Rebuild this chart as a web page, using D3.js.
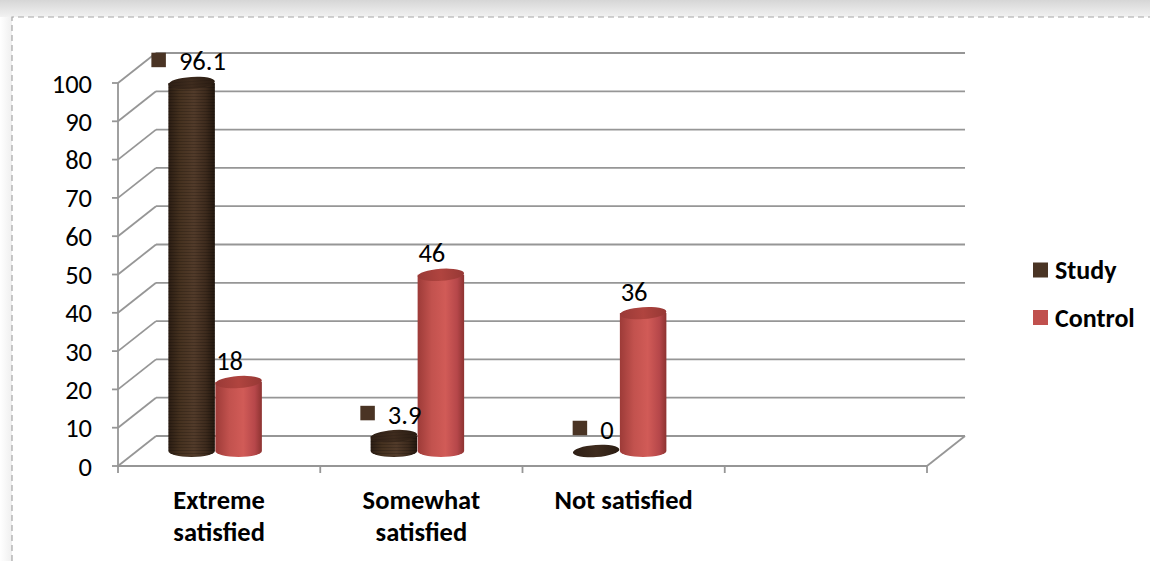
<!DOCTYPE html>
<html>
<head>
<meta charset="utf-8">
<script src="https://cdn.jsdelivr.net/npm/d3@7/dist/d3.min.js"></script>
<style>
  html, body { margin: 0; padding: 0; background: #fff; }
  svg { display: block; }
  text { font-family: Carlito, Calibri, Lato, "Open Sans", sans-serif; }
</style>
</head>
<body>
<svg id="chart" width="1150" height="561"></svg>
<script>
// ---- data ----
const categories = ["Extreme satisfied", "Somewhat satisfied", "Not satisfied"];
const categoryLines = [["Extreme", "satisfied"], ["Somewhat", "satisfied"], ["Not satisfied"]];
const seriesNames = ["Study", "Control"];
const studyValues = [96.1, 3.9, 0];
const controlValues = [18, 46, 36];
const yTickValues = [0, 10, 20, 30, 40, 50, 60, 70, 80, 90, 100];

// ---- layout ----
const svg = d3.select("#chart");
const defs = svg.append("defs");

const frontLeft = 118, frontRight = 927;
const depthDx = 38, depthDy = -30;
const y = d3.scaleLinear().domain([0, 100]).range([466, 83]);
const slots = d3.range(categories.length + 1); // 4th slot is empty in the original
const x = d3.scaleBand().domain(slots).range([frontLeft, frontRight]).padding(0);

// ---- frame / shadow ----
const topShadow = defs.append("linearGradient").attr("id", "topShadow").attr("x1", 0).attr("y1", 0).attr("x2", 0).attr("y2", 1);
topShadow.append("stop").attr("offset", 0).attr("stop-color", "#d6d6d6");
topShadow.append("stop").attr("offset", 1).attr("stop-color", "#f2f2f2");
const leftShadow = defs.append("linearGradient").attr("id", "leftShadow").attr("x1", 0).attr("y1", 0).attr("x2", 1).attr("y2", 0);
leftShadow.append("stop").attr("offset", 0).attr("stop-color", "#ffffff");
leftShadow.append("stop").attr("offset", 1).attr("stop-color", "#efefef");
svg.append("rect").attr("x", 0).attr("y", 0).attr("width", 1150).attr("height", 17).attr("fill", "url(#topShadow)");
svg.append("rect").attr("x", 0).attr("y", 17).attr("width", 12).attr("height", 544).attr("fill", "url(#leftShadow)");
svg.append("path").attr("d", "M12,561 L12,17 L1150,17")
  .attr("fill", "none").attr("stroke", "#a6a6a6").attr("stroke-width", 1.2).attr("stroke-dasharray", "6,4");

// ---- grid ----
const gridColor = "#969696";
const grid = svg.append("g");
yTickValues.forEach(v => {
  const yf = y(v);
  grid.append("line").attr("x1", frontLeft).attr("y1", yf).attr("x2", frontLeft + depthDx).attr("y2", yf + depthDy)
    .attr("stroke", gridColor).attr("stroke-width", 1.8);
  grid.append("line").attr("x1", frontLeft + depthDx).attr("y1", yf + depthDy).attr("x2", frontRight + depthDx).attr("y2", yf + depthDy)
    .attr("stroke", gridColor).attr("stroke-width", 1.8);
  grid.append("line").attr("x1", frontLeft - 6).attr("y1", yf).attr("x2", frontLeft).attr("y2", yf)
    .attr("stroke", gridColor).attr("stroke-width", 1.8);
});
grid.append("line").attr("x1", frontLeft).attr("y1", y(100)).attr("x2", frontLeft).attr("y2", y(0))
  .attr("stroke", gridColor).attr("stroke-width", 1.8);
grid.append("line").attr("x1", frontLeft).attr("y1", y(0)).attr("x2", frontRight).attr("y2", y(0))
  .attr("stroke", gridColor).attr("stroke-width", 1.8);
grid.append("line").attr("x1", frontRight).attr("y1", y(0)).attr("x2", frontRight + depthDx).attr("y2", y(0) + depthDy)
  .attr("stroke", gridColor).attr("stroke-width", 1.8);
slots.concat([slots.length]).forEach(i => {
  const xx = i < slots.length ? x(i) : frontRight;
  grid.append("line").attr("x1", xx).attr("y1", y(0)).attr("x2", xx).attr("y2", y(0) + 7)
    .attr("stroke", gridColor).attr("stroke-width", 1.8);
});

// y tick labels
svg.append("g").selectAll("text").data(yTickValues).join("text")
  .attr("x", 92).attr("y", d => y(d)).attr("dy", "0.36em")
  .attr("text-anchor", "end").attr("font-size", 26.5).attr("fill", "#000")
  .text(d => d);

// category labels
categories.forEach((c, i) => {
  const t = svg.append("text").attr("x", x(i) + x.bandwidth() / 2).attr("y", 500)
    .attr("text-anchor", "middle").attr("font-size", 26.5).attr("font-weight", "bold").attr("fill", "#000");
  categoryLines[i].forEach((line, k) => {
    t.append("tspan").attr("x", x(i) + x.bandwidth() / 2).attr("dy", k === 0 ? "0.35em" : 32).text(line);
  });
});

// ---- gradients for cylinders ----
function hGrad(id, stops) {
  const g = defs.append("linearGradient").attr("id", id).attr("x1", 0).attr("y1", 0).attr("x2", 1).attr("y2", 0);
  stops.forEach(([o, c]) => g.append("stop").attr("offset", o).attr("stop-color", c));
}
hGrad("studyBody", [[0, "#2b1d13"], [0.25, "#45311f"], [0.55, "#523b2a"], [0.8, "#3e2b1d"], [1, "#22170e"]]);
hGrad("studyTop", [[0, "#2e1f15"], [0.5, "#3f2c1e"], [1, "#2a1c12"]]);
hGrad("controlBody", [[0, "#9d3b38"], [0.3, "#c2524e"], [0.6, "#d15b57"], [0.85, "#b6474a"], [1, "#8d3331"]]);
hGrad("controlTop", [[0, "#9a3a37"], [0.5, "#b0443f"], [1, "#963835"]]);
const stripes = defs.append("pattern").attr("id", "stripes").attr("patternUnits", "userSpaceOnUse")
  .attr("width", 6).attr("height", 3);
stripes.append("rect").attr("x", 0).attr("y", 0).attr("width", 6).attr("height", 1).attr("fill", "rgba(0,0,0,0.18)");

// ---- bars ----
const depthFrac = 0.5;
const yMid = v => y(v) + depthDy * depthFrac;
const barW = 46.5, rx = barW / 2, ry = 6;
const seriesData = [
  { name: seriesNames[0], values: studyValues, body: "url(#studyBody)", top: "url(#studyTop)", stripes: true, offset: -23.5 },
  { name: seriesNames[1], values: controlValues, body: "url(#controlBody)", top: "url(#controlTop)", stripes: false, offset: 23.5 }
];
const bars = svg.append("g");
const labels = svg.append("g");
seriesData.forEach(s => {
  s.values.forEach((v, i) => {
    const cx = x(i) + x.bandwidth() / 2 - 4 + s.offset;
    const yb = yMid(0), yt = yMid(v);
    const g = bars.append("g");
    if (v > 0) {
      const d = `M${cx - rx},${yt} L${cx - rx},${yb} A${rx},${ry} 0 0 0 ${cx + rx},${yb} L${cx + rx},${yt} Z`;
      g.append("path").attr("d", d).attr("fill", s.body);
      if (s.stripes) g.append("path").attr("d", d).attr("fill", "url(#stripes)");
    }
    g.append("ellipse").attr("cx", cx).attr("cy", yt).attr("rx", rx).attr("ry", ry)
      .attr("transform", `rotate(-4 ${cx} ${yt})`)
      .attr("fill", s.top);
    if (s.stripes && v > 0) {
      g.append("ellipse").attr("cx", cx).attr("cy", yt).attr("rx", rx).attr("ry", ry)
        .attr("transform", `rotate(-4 ${cx} ${yt})`).attr("fill", "url(#stripes)").attr("opacity", 0.6);
    }

    // data label
    const ly = yt - 22;
    const txt = v.toString();
    if (s.stripes) {
      const lg = labels.append("g");
      const t = lg.append("text").attr("x", 0).attr("y", ly).attr("dy", "0.36em")
        .attr("font-size", 26.5).attr("fill", "#000").text(txt);
      const tw = t.node().getComputedTextLength();
      const gap = 13, sq = 14.5;
      const total = sq + gap + tw;
      const startX = cx - 3 - total / 2;
      lg.insert("rect", "text").attr("x", startX).attr("y", ly - sq / 2 - 1).attr("width", sq).attr("height", sq).attr("fill", "#4a3424");
      t.attr("x", startX + sq + gap);
    } else {
      labels.append("text").attr("x", cx - 9).attr("y", ly).attr("dy", "0.36em")
        .attr("text-anchor", "middle").attr("font-size", 26.5).attr("fill", "#000").text(txt);
    }
  });
});

// ---- legend ----
const legendColors = ["#4a3424", "#c0504d"];
const legend = svg.append("g");
seriesNames.forEach((n, i) => {
  const ly = 270 + i * 47.5;
  legend.append("rect").attr("x", 1033).attr("y", ly - 7.5).attr("width", 15).attr("height", 15).attr("fill", legendColors[i]);
  legend.append("text").attr("x", 1055).attr("y", ly).attr("dy", "0.36em")
    .attr("font-size", 26).attr("font-weight", "bold").attr("fill", "#000").text(n);
});
</script>
</body>
</html>
